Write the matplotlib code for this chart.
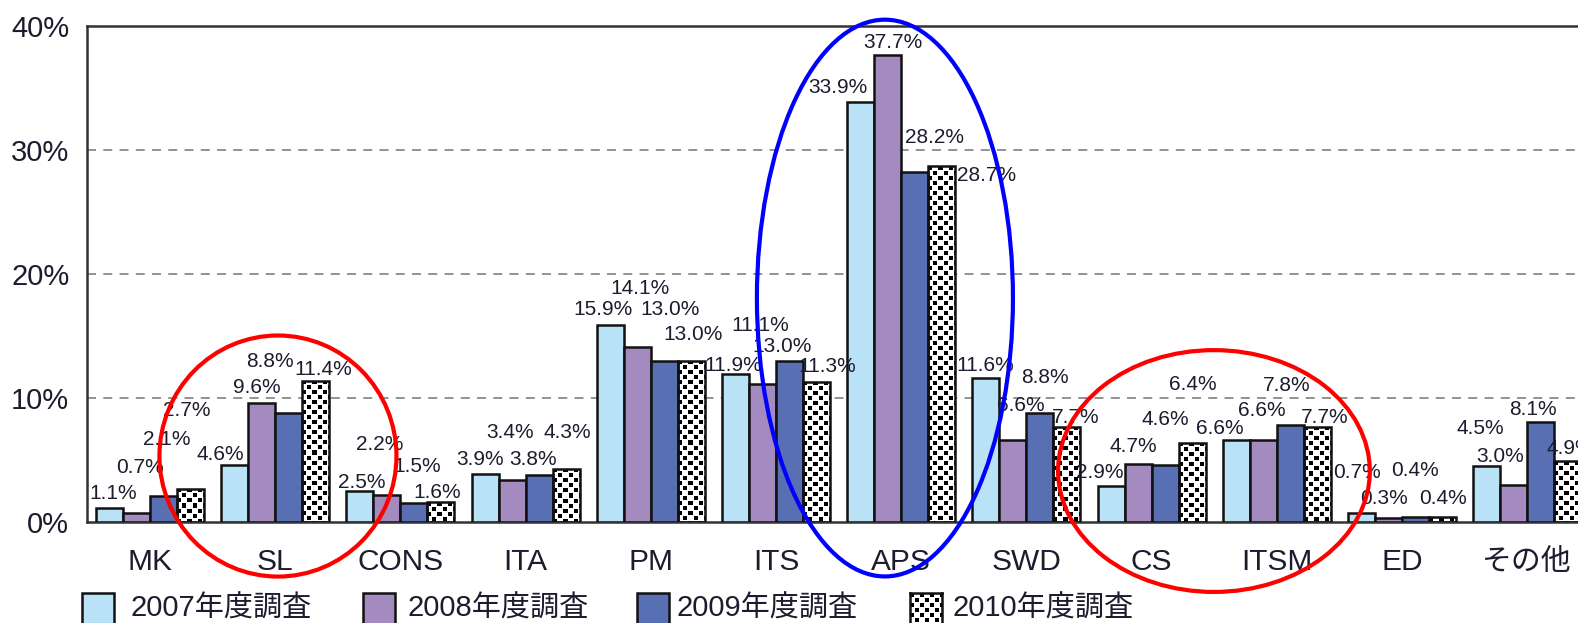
import matplotlib
matplotlib.use("Agg")
import matplotlib.pyplot as plt
from matplotlib.patches import Rectangle, Ellipse
import numpy as np

plt.rcParams['font.family'] = ['Liberation Sans', 'Noto Sans CJK JP', 'DejaVu Sans']

##### data
categories = ['MK', 'SL', 'CONS', 'ITA', 'PM', 'ITS', 'APS', 'SWD', 'CS', 'ITSM', 'ED', 'その他']
series_names = ['2007年度調査', '2008年度調査', '2009年度調査', '2010年度調査']
v2007 = [1.1, 4.6, 2.5, 3.9, 15.9, 11.9, 33.9, 11.6, 2.9, 6.6, 0.7, 4.5]
v2008 = [0.7, 9.6, 2.2, 3.4, 14.1, 11.1, 37.7, 6.6, 4.7, 6.6, 0.3, 3.0]
v2009 = [2.1, 8.8, 1.5, 3.8, 13.0, 13.0, 28.2, 8.8, 4.6, 7.8, 0.4, 8.1]
v2010 = [2.7, 11.4, 1.6, 4.3, 13.0, 11.3, 28.7, 7.7, 6.4, 7.7, 0.4, 4.9]
yticks = [0, 10, 20, 30, 40]

##### styles
colors = ['#b9e2f6', '#a48bbf', '#5870b3', 'white']
text_color = '#1c1c2e'

# label offsets (pixels) from the top centre of each bar, as in the original figure
label_dx = [
    [3.5, 3.5, 3.5, -3.5], [-14.5, -4.5, -18.5, 7.5], [2, -7, 3, -4], [-5.5, -2.5, -6.5, 1.5],
    [-7, 3, 6, 2], [-2.5, -2.5, -7.5, 10.5], [-23, 5, 20, 45], [-0.5, 7.5, 5.5, 8.5],
    [-11, -5, 0, 1], [-16.5, -1.5, -3.5, 7.5], [-4, -4, -1, 0], [-6.5, -13.5, -7.5, 2.5],
]
label_dy = [
    [15, 46, 56, 78], [10, 15, 51, 11], [9, 50, 37, 10], [14, 47, 15, 36],
    [15, 59, 51, 26], [9, 59, 14, 15], [14, 12, 35, -9], [13, 35, 35, 9],
    [14, 17, 45, 58], [12, 30, 40, 9], [41, 20, 47, 19], [38, 28, 12, 13],
]

W, H = 1578, 623
fig = plt.figure(figsize=(W / 100, H / 100), dpi=100)
ax = fig.add_axes([87.4 / W, (H - 522) / H, 1502.4 / W, 496 / H])

x = np.arange(len(categories))
bw = 0.2157
all_vals = [v2007, v2008, v2009, v2010]
bar_sets = []
for k, vals in enumerate(all_vals):
    bars = ax.bar(x + (k - 1.5) * bw, vals, bw, color=colors[k], edgecolor='#111111',
                  linewidth=1.8, zorder=3, label=series_names[k])
    bar_sets.append(bars)


def checker(nx, ny, cell=5, dot=4):
    yy, xx = np.mgrid[0:ny, 0:nx]
    black = (((xx // cell) + (yy // cell)) % 2 == 0) & (xx % cell < dot) & (yy % cell < dot)
    return np.where(black, 0.0, 1.0)


# checker pattern for the 2010 bars
for rect in bar_sets[3]:
    x0, w, h = rect.get_x(), rect.get_width(), rect.get_height()
    nx = int(round(w * 125.2))
    ny = max(2, int(round(h * 12.4)))
    im = ax.imshow(checker(nx, ny)[::-1], cmap='gray', vmin=0, vmax=1,
                   extent=[x0, x0 + w, 0, h], origin='lower', interpolation='nearest',
                   aspect='auto', zorder=2)
    im.set_clip_path(rect)
for rect in bar_sets[3]:
    rect.set_facecolor('none')
    rect.set_zorder(4)

# value labels
for k in range(4):
    for i, rect in enumerate(bar_sets[k]):
        v = all_vals[k][i]
        ax.annotate(f'{v:.1f}%', (rect.get_x() + rect.get_width() / 2, v),
                    xytext=(label_dx[i][k], label_dy[i][k]), textcoords='offset pixels',
                    ha='center', va='center', fontsize=15, color=text_color,
                    zorder=6, annotation_clip=False)

ax.set_xlim(-0.5, len(categories) - 0.5)
ax.set_ylim(0, 40)
ax.set_yticks(yticks)
ax.set_yticklabels([f'{t}%' for t in yticks], fontsize=21, color=text_color)
ax.set_xticks(x)
ax.set_xticklabels(categories, fontsize=21.5, color=text_color)
ax.tick_params(axis='both', length=0)
ax.tick_params(axis='y', pad=13)
ax.tick_params(axis='x', pad=19)
for t in yticks[1:-1]:
    ax.axhline(t, color='#8a8a8a', linestyle=(0, (5, 4)), linewidth=1.3, zorder=1)
for s in ['left', 'top', 'bottom']:
    ax.spines[s].set_linewidth(1.8)
    ax.spines[s].set_color('#333333')
ax.spines['right'].set_visible(False)

# highlight ellipses
for (cx, cy, ew, eh, ec) in [(1.022, 5.32, 1.893, 19.44, '#ff0000'),
                             (5.87, 18.06, 2.045, 44.9, '#0000ff'),
                             (8.498, 4.11, 2.49, 19.5, '#ff0000')]:
    ax.add_patch(Ellipse((cx, cy), ew, eh, fill=False, edgecolor=ec, linewidth=3,
                         zorder=7, clip_on=False))

# legend drawn by hand below the axes
patch_x = [82, 363, 637, 910]
text_x = [130, 407, 677, 952]
for k in range(4):
    if k < 3:
        fig.add_artist(Rectangle((patch_x[k] / W, -4 / H), 32 / W, 34 / H,
                                 transform=fig.transFigure, facecolor=colors[k],
                                 edgecolor='#111111', linewidth=1.8))
    else:
        lax = fig.add_axes([patch_x[k] / W, -4 / H, 32 / W, 34 / H])
        lax.imshow(checker(32, 34), cmap='gray', vmin=0, vmax=1,
                   interpolation='nearest', aspect='auto')
        lax.set_xticks([])
        lax.set_yticks([])
        for s in lax.spines.values():
            s.set_linewidth(1.8)
            s.set_color('#111111')
    fig.text(text_x[k] / W, (H - 609) / H, series_names[k], fontsize=21,
             color=text_color, ha='left', va='center')

fig.savefig('out.png', dpi=100)
